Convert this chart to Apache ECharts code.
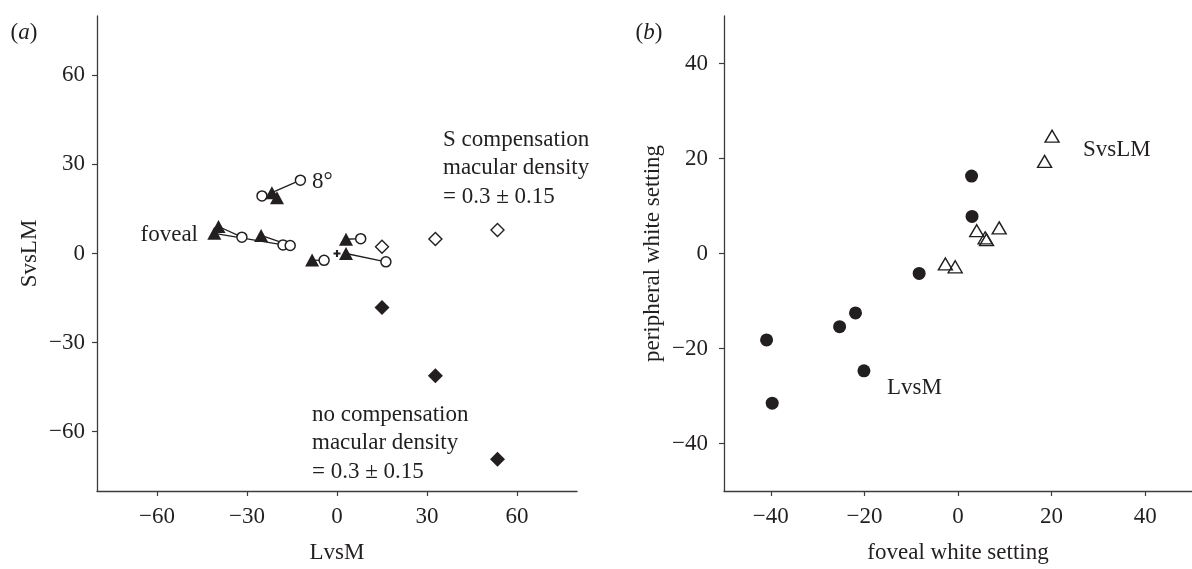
<!DOCTYPE html>
<html><head><meta charset="utf-8">
<script src="https://cdn.jsdelivr.net/npm/echarts@6/dist/echarts.min.js"></script>
<style>html,body{margin:0;padding:0;background:#fff}#c{width:1192px;height:569px}</style>
</head><body><div id="c"></div>
<script>
// ---- tick values ----
const xTicksA = [-60, -30, 0, 30, 60];
const yTicksA = [-60, -30, 0, 30, 60];
const xTicksB = [-40, -20, 0, 20, 40];
const yTicksB = [-40, -20, 0, 20, 40];

// ---- panel (a): 8 observers, foveal (filled triangles) and 8° (open circles) ----
const fovealLvsM  = [-40.9, -39.5, -25.3, -21.7, -20.0, -8.3, 3.0, 3.0];
const fovealSvsLM = [6.8, 9.1, 6.1, 20.5, 18.8, -2.2, 4.8, 0.0];
const periphLvsM  = [-18.0, -31.7, -15.6, -12.2, -25.0, -4.3, 7.9, 16.3];
const periphSvsLM = [2.9, 5.5, 2.7, 24.7, 19.4, -2.3, 5.0, -2.8];
const neutralLvsM = [0];
const neutralSvsLM = [0];
const sCompLvsM  = [15.0, 32.8, 53.5];
const sCompSvsLM = [2.3, 4.9, 7.9];
const noCompLvsM  = [15.0, 32.8, 53.5];
const noCompSvsLM = [-18.2, -41.2, -69.3];

// ---- panel (b): foveal vs peripheral white setting ----
const lvsmFoveal  = [-40.9, -39.7, -25.3, -21.9, -20.1, -8.3, 2.9, 3.0];
const lvsmPeriph  = [-18.2, -31.5, -15.4, -12.5, -24.7, -4.2, 16.3, 7.8];
const svslmFoveal = [-2.7, -0.6, 4.0, 6.1, 5.8, 8.8, 18.5, 20.1];
const svslmPeriph = [-2.2, -2.8, 4.8, 2.9, 3.3, 5.4, 19.4, 24.7];

const INK = '#231f20';
const AX = '#3c3c3c';
const FONT = "'Liberation Serif','Times New Roman',serif";
const zip = (a, b) => a.map((v, i) => [v, b[i]]);
const fmt = v => (v < 0 ? '\u2212' + Math.abs(v) : String(v));

function xAxisCfg(grid, min, max, ticks, name, gap) {
  return {
    gridIndex: grid, type: 'value', min: min, max: max,
    axisLine: { show: true, onZero: false, lineStyle: { color: AX, width: 1.3 } },
    axisTick: { show: true, length: 5, customValues: ticks, lineStyle: { color: AX, width: 1.2 } },
    axisLabel: { customValues: ticks, formatter: fmt, color: INK, fontSize: 23, fontFamily: FONT, margin: 14 },
    splitLine: { show: false },
    name: name, nameLocation: 'middle', nameGap: gap,
    nameTextStyle: { color: INK, fontSize: 23, fontFamily: FONT }
  };
}
function yAxisCfg(grid, min, max, ticks, name, gap, margin) {
  return {
    gridIndex: grid, type: 'value', min: min, max: max,
    axisLine: { show: true, onZero: false, lineStyle: { color: AX, width: 1.3 } },
    axisTick: { show: true, length: 5, customValues: ticks, lineStyle: { color: AX, width: 1.2 } },
    axisLabel: { customValues: ticks, formatter: fmt, color: INK, fontSize: 23, fontFamily: FONT, margin: margin },
    splitLine: { show: false },
    name: name, nameLocation: 'middle', nameGap: gap, nameRotate: 90,
    nameTextStyle: { color: INK, fontSize: 23, fontFamily: FONT }
  };
}

const series = [];
// connecting lines foveal -> peripheral (panel a)
fovealLvsM.forEach((v, i) => {
  series.push({
    type: 'line', xAxisIndex: 0, yAxisIndex: 0, symbol: 'none', silent: true, z: 1,
    data: [[fovealLvsM[i], fovealSvsLM[i]], [periphLvsM[i], periphSvsLM[i]]],
    lineStyle: { color: INK, width: 1.3 }
  });
});
series.push({
  type: 'scatter', xAxisIndex: 0, yAxisIndex: 0, z: 3, symbol: 'circle', symbolSize: 10,
  data: zip(periphLvsM, periphSvsLM),
  itemStyle: { color: '#fff', borderColor: INK, borderWidth: 1.5, opacity: 1 }
});
series.push({
  type: 'scatter', xAxisIndex: 0, yAxisIndex: 0, z: 4, symbol: 'triangle', symbolSize: [14, 13],
  data: zip(fovealLvsM, fovealSvsLM),
  itemStyle: { color: INK, opacity: 1 }
});
series.push({
  type: 'scatter', xAxisIndex: 0, yAxisIndex: 0, z: 4,
  symbol: 'path://M3.5,0h3v3.5h3.5v3h-3.5v3.5h-3v-3.5h-3.5v-3h3.5z', symbolSize: 7,
  data: zip(neutralLvsM, neutralSvsLM),
  itemStyle: { color: INK, opacity: 1 }
});
series.push({
  type: 'scatter', xAxisIndex: 0, yAxisIndex: 0, z: 3, symbol: 'diamond', symbolSize: 13,
  data: zip(sCompLvsM, sCompSvsLM),
  itemStyle: { color: '#fff', borderColor: INK, borderWidth: 1.4, opacity: 1 }
});
series.push({
  type: 'scatter', xAxisIndex: 0, yAxisIndex: 0, z: 3, symbol: 'diamond', symbolSize: 15,
  data: zip(noCompLvsM, noCompSvsLM),
  itemStyle: { color: INK, opacity: 1 }
});
// panel b
series.push({
  type: 'scatter', xAxisIndex: 1, yAxisIndex: 1, z: 3, symbol: 'circle', symbolSize: 13,
  data: zip(lvsmFoveal, lvsmPeriph),
  itemStyle: { color: INK, opacity: 1 }
});
series.push({
  type: 'scatter', xAxisIndex: 1, yAxisIndex: 1, z: 3, symbol: 'triangle', symbolSize: [14, 12],
  data: zip(svslmFoveal, svslmPeriph),
  itemStyle: { color: 'rgba(255,255,255,0)', borderColor: INK, borderWidth: 1.4, opacity: 1 }
});

const txt = (text, x, y, align) => ({
  type: 'text', x: x, y: y, silent: true,
  style: { text: text, fill: INK, font: "23px " + FONT, textAlign: align, textVerticalAlign: 'middle', lineHeight: 28.5 }
});
const panelTag = (letter, x, y) => ({
  type: 'text', x: x, y: y, silent: true,
  style: { text: '({i|' + letter + '})', fill: INK, font: '23px ' + FONT, textAlign: 'center', textVerticalAlign: 'middle',
           rich: { i: { fontStyle: 'italic', fontSize: 23, fontFamily: FONT, fill: INK } } }
});

const option = {
  animation: false,
  backgroundColor: '#fff',
  grid: [
    { left: 97, top: 16, width: 480, height: 480 },
    { left: 724, top: 16, width: 480, height: 480 }
  ],
  xAxis: [
    xAxisCfg(0, -80, 80, xTicksA, 'LvsM', 50),
    xAxisCfg(1, -50, 50, xTicksB, 'foveal white setting', 50)
  ],
  yAxis: [
    yAxisCfg(0, -80, 80, yTicksA, 'SvsLM', 56, 12),
    yAxisCfg(1, -50, 50, yTicksB, 'peripheral white setting', 60, 16)
  ],
  series: series,
  graphic: [
    panelTag('a', 24, 33),
    txt('foveal', 198, 235, 'right'),
    txt('8°', 312, 182, 'left'),
    txt('S compensation\nmacular density\n= 0.3 ± 0.15', 443, 168, 'left'),
    txt('no compensation\nmacular density\n= 0.3 ± 0.15', 312, 443, 'left'),
    panelTag('b', 649, 33),
    txt('SvsLM', 1083, 150, 'left'),
    txt('LvsM', 887, 388, 'left')
  ]
};

const chart = echarts.init(document.getElementById('c'), null, { renderer: 'canvas' });
chart.setOption(option);
</script>
</body></html>
